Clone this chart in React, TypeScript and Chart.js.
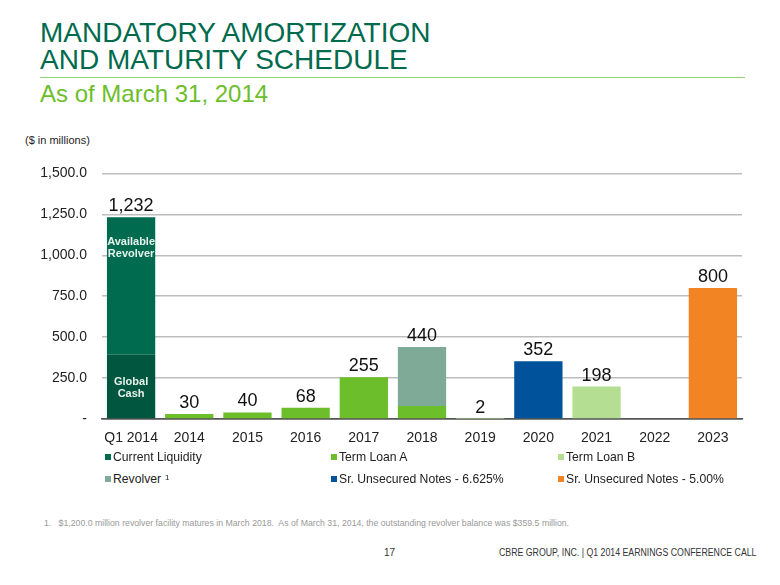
import React, { useEffect, useRef } from "react";
import { Chart, registerables } from "chart.js";

Chart.register(...registerables);

const categories = ["Q1 2014", "2014", "2015", "2016", "2017", "2018", "2019", "2020", "2021", "2022", "2023"];
const globalCash = [392, null, null, null, null, null, null, null, null, null, null];
const availableRevolver = [840, null, null, null, null, null, null, null, null, null, null];
const termLoanA = [null, 30, 40, 68, 255, 80, null, null, null, null, null];
const revolver = [null, null, null, null, null, 360, null, null, null, null, null];
const termLoanB = [null, null, null, null, null, null, 2, null, 198, null, null];
const notes6625 = [null, null, null, null, null, null, null, 352, null, null, null];
const notes500 = [null, null, null, null, null, null, null, null, null, null, 800];
const yTicks = [0, 250, 500, 750, 1000, 1250, 1500];

const C_LIQ = "#006B4F";
const C_CASH = "#00563E";
const C_TLA = "#6CBE2B";
const C_TLB = "#B4DF92";
const C_REV = "#7FAA98";
const C_N1 = "#00529B";
const C_N2 = "#F38423";

const legendItems = [
  { label: "Current Liquidity", color: C_LIQ, sup: "" },
  { label: "Term Loan A", color: C_TLA, sup: "" },
  { label: "Term Loan B", color: C_TLB, sup: "" },
  { label: "Revolver", color: C_REV, sup: "1" },
  { label: "Sr. Unsecured Notes - 6.625%", color: C_N1, sup: "" },
  { label: "Sr. Unsecured Notes - 5.00%", color: C_N2, sup: "" },
];

const labelsPlugin = {
  id: "totals",
  afterDatasetsDraw(chart: any) {
    const ctx = chart.ctx;
    const n = categories.length;
    ctx.save();
    for (let i = 0; i < n; i++) {
      let total = 0;
      let has = false;
      let topY = Infinity;
      let x = 0;
      chart.data.datasets.forEach((ds: any, di: number) => {
        const v = ds.data[i];
        if (v !== null && v !== undefined) {
          total += v;
          has = true;
          const el = chart.getDatasetMeta(di).data[i];
          x = el.x;
          topY = Math.min(topY, el.y);
        }
      });
      if (!has) continue;
      ctx.fillStyle = "#111";
      ctx.font = "18px 'Liberation Sans', Arial, sans-serif";
      ctx.textAlign = "center";
      ctx.textBaseline = "alphabetic";
      ctx.fillText(total.toLocaleString("en-US"), x, topY - 6);
    }
    const revEl = chart.getDatasetMeta(1).data[0];
    const cashEl = chart.getDatasetMeta(0).data[0];
    ctx.fillStyle = "#E8F2EC";
    ctx.font = "bold 11px 'Liberation Sans', Arial, sans-serif";
    ctx.textAlign = "center";
    ctx.textBaseline = "middle";
    ctx.fillText("Available", revEl.x, revEl.y + 25);
    ctx.fillText("Revolver", revEl.x, revEl.y + 37);
    const cy = (cashEl.y + cashEl.base) / 2;
    ctx.fillText("Global", cashEl.x, cy - 5);
    ctx.fillText("Cash", cashEl.x, cy + 7);
    ctx.restore();
  },
};

export default function App() {
  const ref = useRef<HTMLCanvasElement>(null);
  useEffect(() => {
    if (!ref.current) return;
    const mk = (label: string, data: any[], color: string) => ({
      label,
      data,
      backgroundColor: color,
      borderWidth: 0,
      barPercentage: 0.83,
      categoryPercentage: 1,
    });
    const chart = new Chart(ref.current, {
      type: "bar",
      data: {
        labels: categories,
        datasets: [
          mk("Global Cash", globalCash, C_CASH),
          mk("Current Liquidity", availableRevolver, C_LIQ),
          mk("Term Loan A", termLoanA, C_TLA),
          mk("Revolver", revolver, C_REV),
          mk("Term Loan B", termLoanB, C_TLB),
          mk("Sr. Unsecured Notes - 6.625%", notes6625, C_N1),
          mk("Sr. Unsecured Notes - 5.00%", notes500, C_N2),
        ],
      },
      options: {
        animation: false,
        responsive: false,
        layout: { padding: { top: 23, right: 38, left: 0, bottom: 0 } },
        plugins: { legend: { display: false }, tooltip: { enabled: false } },
        scales: {
          x: {
            stacked: true,
            grid: { display: false, drawTicks: false },
            border: { display: true, color: "#555", width: 1.5 },
            ticks: {
              padding: 11,
              color: "#222",
              font: { family: "'Liberation Sans', Arial, sans-serif", size: 14 },
              maxRotation: 0,
              autoSkip: false,
            },
            afterFit(scale: any) {
              scale.height = 31;
            },
          },
          y: {
            stacked: true,
            min: 0,
            max: 1500,
            afterBuildTicks(scale: any) {
              scale.ticks = yTicks.map((v) => ({ value: v }));
            },
            grid: {
              drawTicks: false,
              color: (c: any) => (c.tick && c.tick.value === 0 ? "#555" : "#BDBDBD"),
              lineWidth: 1.5,
            },
            border: { display: false },
            ticks: {
              padding: 15,
              color: "#222",
              font: { family: "'Liberation Sans', Arial, sans-serif", size: 14 },
              callback: (v: any) =>
                v === 0 ? "-" : Number(v).toLocaleString("en-US", { minimumFractionDigits: 1, maximumFractionDigits: 1 }),
            },
            afterFit(scale: any) {
              scale.width = 102;
            },
          },
        },
      },
      plugins: [labelsPlugin],
    });
    return () => chart.destroy();
  }, []);

  const font = "'Liberation Sans', Arial, sans-serif";
  return (
    <div style={{ position: "fixed", left: 0, top: 0, width: 780, height: 585, background: "#fff", fontFamily: font, overflow: "hidden" }}>
      <div style={{ position: "absolute", left: 40, top: 19, fontSize: 28, lineHeight: "27px", color: "#006A4D" }}>
        MANDATORY AMORTIZATION
        <br />
        AND MATURITY SCHEDULE
      </div>
      <div style={{ position: "absolute", left: 40, top: 77, width: 705, height: 1, background: "#8FD466" }} />
      <div style={{ position: "absolute", left: 40, top: 80, fontSize: 24, color: "#6CBE2B" }}>As of March 31, 2014</div>
      <div style={{ position: "absolute", left: 25, top: 134, fontSize: 11, color: "#222" }}>($ in millions)</div>
      <canvas ref={ref} width={780} height={300} style={{ position: "absolute", left: 0, top: 150, width: 780, height: 300 }} />
      {legendItems.map((it, i) => {
        const col = i % 3;
        const row = Math.floor(i / 3);
        const left = [105, 331, 558][col];
        const top = [449, 471][row];
        return (
          <div key={it.label} style={{ position: "absolute", left, top, height: 16, display: "flex", alignItems: "center", fontSize: 12.2, color: "#222", whiteSpace: "nowrap" }}>
            <span style={{ display: "inline-block", width: 6, height: 6, background: it.color, marginRight: 2 }} />
            <span>{it.label}</span>
            {it.sup ? <sup style={{ fontSize: 8, marginLeft: 4, position: "relative", top: -2 }}>{it.sup}</sup> : null}
          </div>
        );
      })}
      <div style={{ position: "absolute", left: 44, top: 518, fontSize: 9, color: "#999", whiteSpace: "pre", transform: "scaleX(0.97)", transformOrigin: "left" }}>
        {"1.   $1,200.0 million revolver facility matures in March 2018.  As of March 31, 2014, the outstanding revolver balance was $359.5 million."}
      </div>
      <div style={{ position: "absolute", left: 384, top: 547, fontSize: 10, color: "#333" }}>17</div>
      <div style={{ position: "absolute", left: 499, top: 547, fontSize: 10, color: "#333", whiteSpace: "nowrap", transform: "scaleX(0.877)", transformOrigin: "left" }}>
        CBRE GROUP, INC. | Q1 2014 EARNINGS CONFERENCE CALL
      </div>
    </div>
  );
}
